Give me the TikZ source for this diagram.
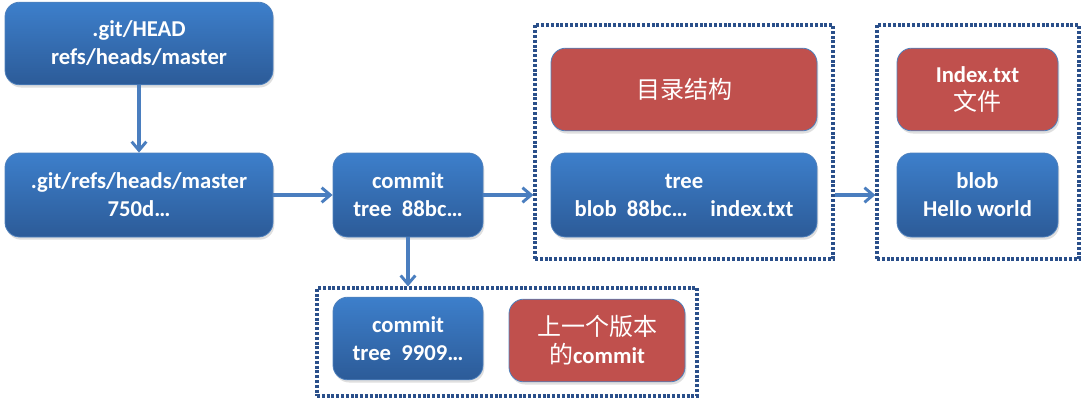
\documentclass[tikz,border=0pt]{standalone}
\usepackage{fontspec}
\setmainfont{Carlito}
\newfontfamily\cjk{Noto Sans CJK SC}
\usetikzlibrary{positioning, arrows.meta, shadows}
\definecolor{color_blue_top}{HTML}{3D7FCB}
\definecolor{color_blue_bottom}{HTML}{2C5B98}
\definecolor{color_red}{HTML}{C0504D}
\definecolor{color_edge}{HTML}{4F81BD}
\definecolor{color_arrow}{HTML}{4A7EBF}
\definecolor{color_frame}{HTML}{2A4F8A}
\tikzset{
  git_box/.style={rectangle, rounded corners=11pt, draw=color_edge, line width=0.6pt,
    top color=color_blue_top, bottom color=color_blue_bottom, text=white, align=center,
    font=\fontsize{17}{21}\selectfont\bfseries, inner sep=2pt,
    drop shadow={shadow xshift=1pt, shadow yshift=-2pt, opacity=0.25}},
  note_box/.style={git_box, top color=color_red, bottom color=color_red, font=\fontsize{17}{21}\selectfont},
  group_frame/.style={rectangle, draw=color_frame, line width=2.4pt, dash pattern=on 2.2pt off 1.4pt, inner sep=0pt},
  flow_arrow/.style={-{Straight Barb[length=6.5pt, width=11pt, line width=2.2pt]}, draw=color_arrow, line width=2.5pt},
}

\begin{document}
\begin{tikzpicture}[x=0.75pt, y=-0.75pt]
    \useasboundingbox (0,0) rectangle (1082,404);
    % Reference chain
    \node[git_box, minimum width=201pt, minimum height=62pt] (head) at (139,43.5) {.git/HEAD\\refs/heads/master};
    \node[git_box, minimum width=201pt, minimum height=63pt] (master) at (139,195) {.git/refs/heads/master\\750d…};
    \node[git_box, minimum width=112.5pt, minimum height=63pt] (commit) at (408,195) {commit\\tree\ \ 88bc…};
    % Tree group
    \node[group_frame, minimum width=223.5pt, minimum height=175.5pt] (treeframe) at (684,142) {};
    \node[note_box, minimum width=199.5pt, minimum height=62pt] (dirnote) at (684,89.5) {\fontsize{18}{21}\cjk 目录结构};
    \node[git_box, minimum width=199.5pt, minimum height=63pt] (tree) at (684,195) {tree\\blob\ \ 88bc…\hspace{1em}index.txt};
    % Blob group
    \node[group_frame, minimum width=151.5pt, minimum height=175.5pt] (blobframe) at (978,142) {};
    \node[note_box, minimum width=120.75pt, minimum height=62pt] (filenote) at (977.5,89.5) {\bfseries Index.txt\\{\fontsize{18}{21}\cjk 文件}};
    \node[git_box, minimum width=120.75pt, minimum height=63pt] (blob) at (977.5,195) {blob\\Hello world};
    % Parent commit group
    \node[group_frame, minimum width=285pt, minimum height=81pt] (oldframe) at (507,342) {};
    \node[git_box, minimum width=112.5pt, minimum height=62pt] (oldcommit) at (408,338.5) {commit\\tree\ \ 9909…};
    \node[note_box, minimum width=132pt, minimum height=62pt] (oldnote) at (597,340.5) {{\fontsize{18}{21}\cjk 上一个版本}\\{\fontsize{18}{21}\cjk 的}\textbf{commit}};
    % Arrows
    \draw[flow_arrow] (head) -- (master);
    \draw[flow_arrow] (master) -- (commit);
    \draw[flow_arrow] (commit.east) -- (commit.east -| treeframe.west);
    \draw[flow_arrow] (treeframe.east |- tree.east) -- (blobframe.west |- tree.east);
    \draw[flow_arrow] (commit.south) -- (commit.south |- oldframe.north);
  \end{tikzpicture}
\end{document}
